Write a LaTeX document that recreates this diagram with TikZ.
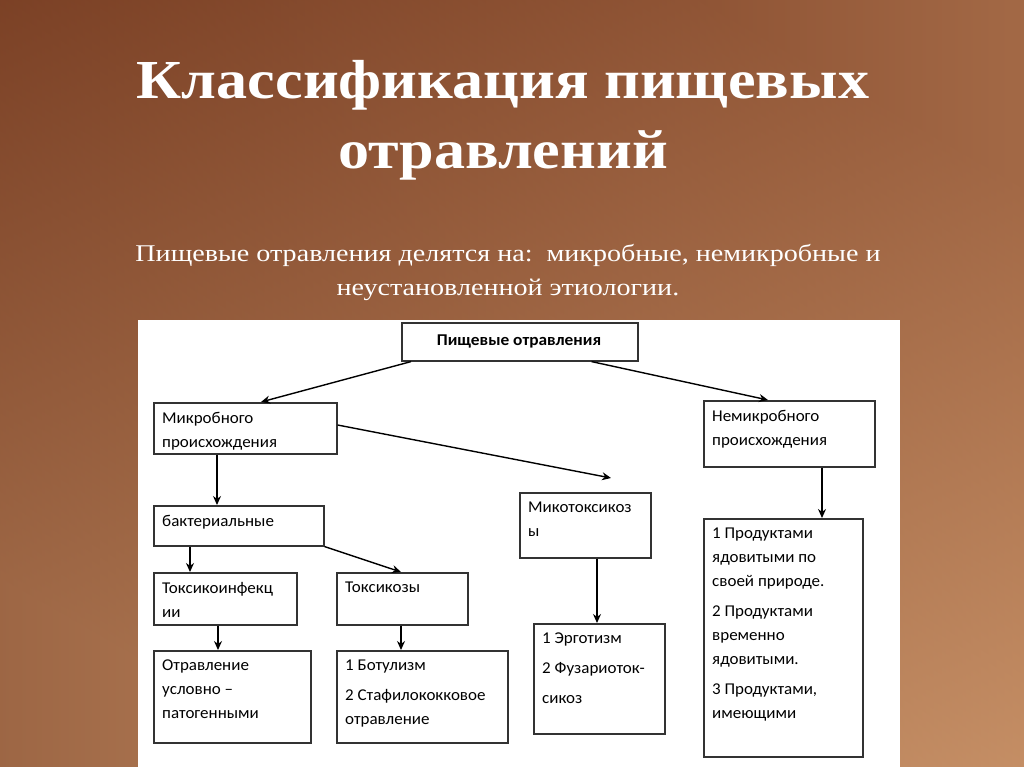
\documentclass[tikz,border=0pt]{standalone}
\usepackage{fontspec}
\setmainfont{Liberation Serif}
\newfontfamily\boxfont{Carlito}
\usetikzlibrary{arrows.meta}
\definecolor{bgA}{HTML}{6A2A12}
\definecolor{bgB}{HTML}{DCA87A}
\tikzset{
  bx/.style={draw=black!80,line width=1.6pt,fill=white,anchor=north west,inner sep=0pt},
  tx/.style={anchor=north west,align=left,font=\boxfont\fontsize{16.5}{24}\selectfont,inner sep=0pt,xscale=1.03},
  ar/.style={-{Stealth[length=9pt,width=8pt]},line width=1.4pt,black}
}
\newcommand{\bxat}[6]{\node[bx,minimum width=#3pt,minimum height=#4pt] (#1) at (#2) {};
  \node[tx] (#5) at ([xshift=9pt,yshift=-10pt]#1.north west) {#6};}
\begin{document}
\begin{tikzpicture}[x=1pt,y=-1pt]
\shade[top color=bgA,bottom color=bgB,shading angle=-30] (0,0) rectangle (1024,767);
\shade[left color=bgA!90!black,right color=bgB,opacity=0.5] (0,0) rectangle (1024,767);
\useasboundingbox (0,0) rectangle (1024,767);
\fill[white] (138,320) rectangle (900,767);
\node[white,font=\bfseries\fontsize{55}{70}\selectfont,align=center,xscale=1.13] (title) at (503,120) {Классификация пищевых\\отравлений};
\node[white,font=\fontsize{24}{34}\selectfont,align=center,xscale=1.17] (sub) at (508,272) {Пищевые отравления делятся на:\ \ микробные, немикробные и\\неустановленной этиологии.};
\node[bx,minimum width=236pt,minimum height=38pt] (root) at (401,322) {};
\node[anchor=center,font=\boxfont\bfseries\fontsize{16.5}{18}\selectfont,xscale=1.05] (rt) at (519,341) {Пищевые отравления};
\bxat{mic}{153,402}{183}{51}{mict}{Микробного\\происхождения}
\bxat{nem}{703,400}{171}{66}{nemt}{Немикробного\\происхождения}
\bxat{bak}{153,505}{170}{40}{bakt}{бактериальные}
\bxat{myk}{519,492}{131}{65}{mykt}{Микотоксикоз\\ы}
\bxat{ti}{153,572}{143}{52}{tit}{Токсикоинфекц\\ии}
\bxat{tz}{336,572}{131}{52}{tzt}{Токсикозы}
\bxat{otr}{153,650}{157}{92}{otrt}{Отравление\\условно –\\патогенными}
\bxat{bot}{336,650}{171}{92}{bott}{1 Ботулизм\\[6pt]2 Стафилококковое\\отравление}
\bxat{erg}{533,623}{131}{110}{ergt}{1 Эрготизм\\[6pt]2 Фузариоток-\\[6pt]сикоз}
\bxat{prd}{703,518}{159}{238}{prdt}{1 Продуктами\\ядовитыми по\\своей природе.\\[6pt]2 Продуктами\\временно\\ядовитыми.\\[6pt]3 Продуктами,\\имеющими}
\draw[ar] ([xshift=10pt]root.south west) -- ([xshift=108pt]mic.north west);
\draw[ar] ([xshift=-47pt]root.south east) -- ([xshift=65pt]nem.north west);
\draw[ar] ([yshift=-23pt]mic.north east) -- ([xshift=92pt,yshift=14pt]myk.north west);
\draw[ar] ([xshift=64pt]mic.south west) -- ([xshift=64pt]bak.north west);
\draw[ar] ([xshift=37pt]bak.south west) -- ([xshift=37pt]ti.north west);
\draw[ar] (bak.south east) -- ([xshift=65pt]tz.north west);
\draw[ar] ([xshift=65pt]ti.south west) -- ([xshift=65pt]otr.north west);
\draw[ar] ([xshift=65pt]tz.south west) -- ([xshift=65pt]bot.north west);
\draw[ar] ([xshift=78pt]myk.south west) -- ([xshift=64pt]erg.north west);
\draw[ar] ([xshift=119pt]nem.south west) -- ([xshift=119pt]prd.north west);
\end{tikzpicture}
\end{document}
